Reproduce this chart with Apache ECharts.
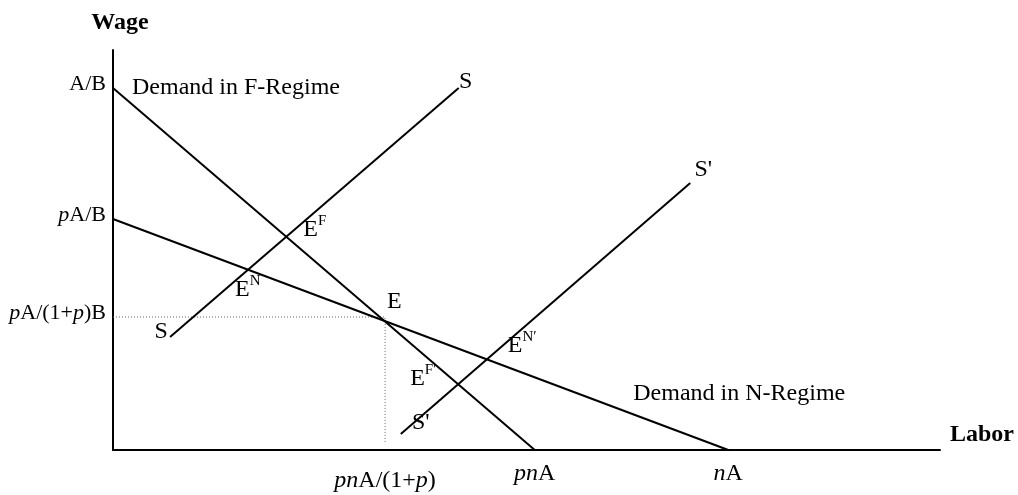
<!DOCTYPE html>
<html>
<head>
<meta charset="utf-8">
<script src="https://cdn.jsdelivr.net/npm/echarts@6/dist/echarts.min.js"></script>
<style>html,body{margin:0;padding:0;background:#fff}#chart{width:1018px;height:495px}</style>
</head>
<body>
<div id="chart"></div>
<script>
// ---- data (labor units, wage units) ----
const demandF = [[0, 90.5], [51.0, 0]];      // Demand in F-Regime
const demandN = [[0, 57.75], [74.4, 0]];     // Demand in N-Regime
const supplyS = [[6.9, 28.25], [41.8, 90.5]];   // S
const supplyS2 = [[34.8, 4.0], [69.8, 66.75]];  // S'
const eqLabor = 32.9;
const eqWage = 33.25;
const yTicks = [90.5, 57.75, 33.25];
const yTickLabels = ['A/B', '{i|p}A/B', '{i|p}A/(1+{i|p})B'];
const xTicks = [32.9, 51.0, 74.4];
const xTickLabels = ['{il|pn}{rl|A/(1+}{il|p}{rl|)}', '{i|pn}A', '{i|n}A'];

const FONT = "'Liberation Serif', 'Times New Roman', serif";

function intersect(a, b) {
  const [x1, y1] = a[0], [x2, y2] = a[1], [x3, y3] = b[0], [x4, y4] = b[1];
  const d = (x1 - x2) * (y3 - y4) - (y1 - y2) * (x3 - x4);
  const t = ((x1 - x3) * (y3 - y4) - (y1 - y3) * (x3 - x4)) / d;
  return [x1 + t * (x2 - x1), y1 + t * (y2 - y1)];
}
function nearestIdx(arr, v) {
  let best = 0;
  arr.forEach((a, i) => { if (Math.abs(a - v) < Math.abs(arr[best] - v)) best = i; });
  return best;
}

const E = intersect(demandF, demandN);
const EF = intersect(supplyS, demandF);
const EN = intersect(supplyS, demandN);
const EF2 = intersect(supplyS2, demandF);
const EN2 = intersect(supplyS2, demandN);

const supRich = {
  m: { fontSize: 24, fontFamily: FONT, color: '#000', lineHeight: 32 },
  s: { fontSize: 15, fontFamily: FONT, color: '#000', verticalAlign: 'top', lineHeight: 15 }
};

function lbl(pt, text, offset, align) {
  return {
    value: pt,
    label: { formatter: text, offset: offset, align: align || 'center' }
  };
}

const labelData = [
  lbl(demandF[0], 'Demand in F-Regime', [19, 0], 'left'),
  lbl(demandN[1], 'Demand in N-Regime', [-95, -56], 'left'),
  lbl(supplyS[0], 'S', [-9, -5]),
  lbl(supplyS[1], 'S', [7, -6]),
  lbl(supplyS2[0], "S'", [20, -11]),
  lbl(supplyS2[1], "S'", [13, -13]),
  lbl(E, '{m|E}', [10, -19]),
  lbl(EF, '{m|E}{s|F}', [17, -7], 'left'),
  lbl(EN, '{m|E}{s|N}', [-13, 20], 'left'),
  lbl(EN2, '{m|E}{s|N′}', [21, -14], 'left'),
  lbl(EF2, '{m|E}{s|F′}', [-48, -6], 'left')
];

function lineSeries(name, data) {
  return {
    name: name, type: 'line', data: data, showSymbol: false, symbol: 'none',
    lineStyle: { color: '#000', width: 2 }, silent: true, z: 3
  };
}

const chart = echarts.init(document.getElementById('chart'), null, { renderer: 'canvas' });
chart.setOption({
  animation: false,
  backgroundColor: '#fff',
  grid: { left: 113, right: 78, top: 50, bottom: 45, containLabel: false },
  xAxis: {
    type: 'value', min: 0, max: 100,
    name: 'Labor', nameLocation: 'end', nameGap: 10,
    nameTextStyle: { fontFamily: FONT, fontSize: 24, fontWeight: 'bold', color: '#000', align: 'left', verticalAlign: 'bottom', padding: [0, 0, 3, 0] },
    axisLine: { show: true, onZero: false, lineStyle: { color: '#000', width: 2 } },
    axisTick: { show: false },
    splitLine: { show: false },
    axisLabel: {
      show: true, customValues: xTicks, margin: 12,
      fontFamily: FONT, fontSize: 24, color: '#000',
      formatter: v => xTickLabels[nearestIdx(xTicks, v)],
      rich: {
        i: { fontStyle: 'italic', fontFamily: FONT, fontSize: 24, color: '#000' },
        il: { fontStyle: 'italic', fontFamily: FONT, fontSize: 24, color: '#000', lineHeight: 38 },
        rl: { fontFamily: FONT, fontSize: 24, color: '#000', lineHeight: 38 }
      }
    }
  },
  yAxis: {
    type: 'value', min: 0, max: 100,
    name: 'Wage', nameLocation: 'end', nameGap: 15,
    nameTextStyle: { fontFamily: FONT, fontSize: 24, fontWeight: 'bold', color: '#000', padding: [0, 0, 0, 14] },
    axisLine: { show: true, onZero: false, lineStyle: { color: '#000', width: 2 } },
    axisTick: { show: false },
    splitLine: { show: false },
    axisLabel: {
      show: true, customValues: yTicks, margin: 7,
      fontFamily: FONT, fontSize: 22, color: '#000', padding: [0, 0, 8, 0],
      formatter: v => yTickLabels[nearestIdx(yTicks, v)],
      rich: { i: { fontStyle: 'italic', fontFamily: FONT, fontSize: 22, color: '#000' } }
    }
  },
  series: [
    lineSeries('Demand F', demandF),
    lineSeries('Demand N', demandN),
    lineSeries('S', supplyS),
    lineSeries("S'", supplyS2),
    {
      name: 'guides', type: 'line', showSymbol: false, symbol: 'none', silent: true, z: 2,
      data: [[0, eqWage], [eqLabor, eqWage], [eqLabor, 1.7]],
      lineStyle: { color: '#666', width: 1, type: [1, 2] }
    },
    {
      name: 'labels', type: 'scatter', symbolSize: 0, silent: true, z: 5,
      itemStyle: { opacity: 1 },
      data: labelData,
      label: {
        show: true, position: 'inside', verticalAlign: 'middle', opacity: 1,
        fontFamily: FONT, fontSize: 24, color: '#000',
        rich: supRich
      }
    }
  ]
});
</script>
</body>
</html>
